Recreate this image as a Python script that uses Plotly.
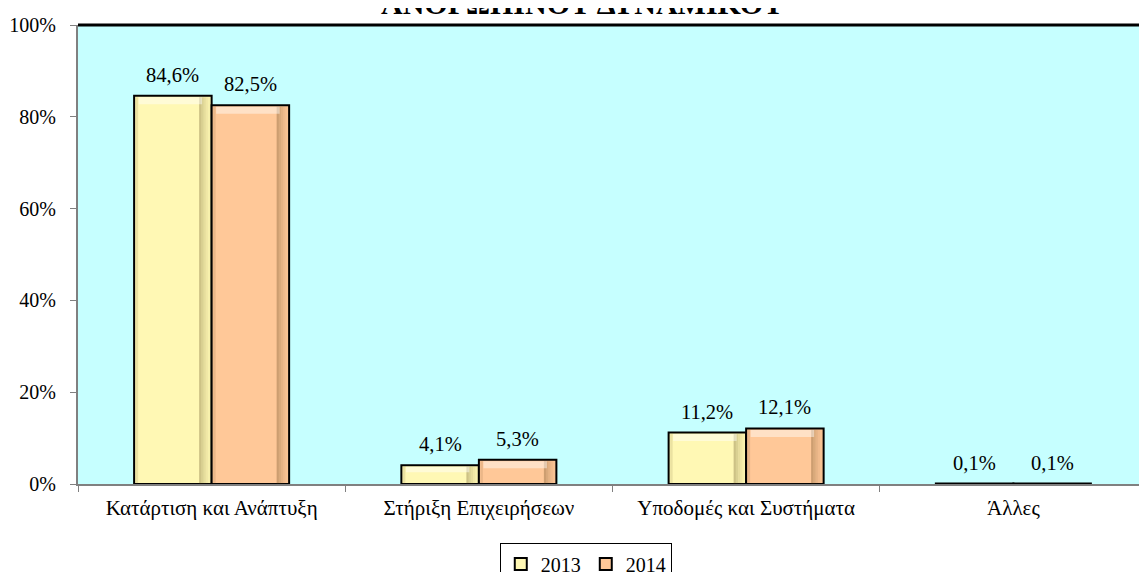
import plotly.graph_objects as go

categories = ["Κατάρτιση και Ανάπτυξη", "Στήριξη Επιχειρήσεων", "Υποδομές και Συστήματα", "Άλλες"]
years = ["2013", "2014"]
values_2013 = [84.6, 4.1, 11.2, 0.1]
values_2014 = [82.5, 5.3, 12.1, 0.1]
title_text = "ΑΝΘΡΩΠΙΝΟΥ ΔΥΝΑΜΙΚΟΥ"

colors = ["#FFF8B4", "#FFC898"]
series = [values_2013, values_2014]

FONT = "Liberation Serif, Times New Roman, serif"
BARGAP = 0.42

fig = go.Figure()
for name, vals, col in zip(years, series, colors):
    fig.add_trace(go.Bar(
        x=categories, y=vals, name=name,
        marker=dict(color=col, line=dict(color="#000000", width=2)),
    ))

# plot-area geometry (pixels) used to convert bevel sizes into axis units
plot_w = 1147 - 78
plot_h = 572 - 25 - 88
cat_px = plot_w / len(categories)
bar_w = (1 - BARGAP) / 2
px_x = 1.0 / cat_px
px_y = 100.0 / plot_h

shapes = [dict(type="line", xref="paper", yref="paper", x0=0, x1=1, y0=1, y1=1,
               line=dict(color="#000000", width=3), layer="above")]

# soft bevel shading on each bar (right/left shadow, top highlight)
for i, vals in enumerate(series):
    for j, v in enumerate(vals):
        h_px = v / px_y
        if h_px < 6:
            continue
        x0 = j - bar_w + i * bar_w
        x1 = x0 + bar_w
        inset = 1.5 * px_x
        top = v - 1.5 * px_y
        # right side shadow gradient
        for k, op in enumerate([0.04, 0.08, 0.13, 0.19, 0.26]):
            xa = x1 - inset - (k + 1) * 2.2 * px_x
            xb = x1 - inset - k * 2.2 * px_x
            shapes.append(dict(type="rect", xref="x", yref="y", x0=xa, x1=xb,
                               y0=0, y1=top, fillcolor=f"rgba(60,40,0,{op})",
                               line=dict(width=0), layer="above"))
        # left side thin shadow
        shapes.append(dict(type="rect", xref="x", yref="y", x0=x0 + inset,
                           x1=x0 + inset + 2.5 * px_x, y0=0, y1=top,
                           fillcolor="rgba(60,40,0,0.10)", line=dict(width=0), layer="above"))
        # top highlight band
        band = min(7.0, h_px * 0.3) * px_y
        shapes.append(dict(type="rect", xref="x", yref="y", x0=x0 + inset + 3 * px_x,
                           x1=x1 - inset - 8 * px_x, y0=top - band, y1=top,
                           fillcolor="rgba(255,255,255,0.45)", line=dict(width=0), layer="above"))

# data labels
bar_px = bar_w * cat_px
annotations = []
for i, vals in enumerate(series):
    shift = (-1 if i == 0 else 1) * bar_px / 2
    for c, v in zip(categories, vals):
        annotations.append(dict(
            x=c, y=v, xref="x", yref="y", xshift=shift, yshift=8,
            text=f"{v:.1f}".replace(".", ",") + "%",
            showarrow=False, yanchor="bottom",
            font=dict(family=FONT, size=20.5, color="#000000"),
        ))
annotations.append(dict(
    x=0.472, y=1, xref="paper", yref="paper", yanchor="bottom", yshift=3,
    text="<b>" + title_text + "</b>", showarrow=False,
    font=dict(family=FONT, size=30, color="#000000"),
))

# the page body adds an 8px offset; margins compensate for it
fig.update_layout(
    width=1147, height=572,
    margin=dict(l=70, r=8, t=17, b=96),
    paper_bgcolor="#FFFFFF",
    plot_bgcolor="#C6FFFF",
    barmode="group",
    bargap=BARGAP,
    bargroupgap=0,
    separators=",.",
    font=dict(family=FONT, size=20, color="#000000"),
    annotations=annotations,
    showlegend=True,
    legend=dict(
        orientation="h", x=0.475, xanchor="center",
        yref="container", y=0.064, yanchor="top",
        bordercolor="#000000", borderwidth=1, bgcolor="#FFFFFF",
        font=dict(family=FONT, size=20), itemwidth=30,
    ),
    shapes=shapes,
)
fig.update_xaxes(
    showline=True, linecolor="#808080", linewidth=2,
    ticks="outside", tickson="boundaries", ticklen=6, tickcolor="#808080", tickwidth=1,
    showgrid=False, tickfont=dict(family=FONT, size=21), ticklabelstandoff=4,
    automargin=False,
)
fig.update_yaxes(
    range=[0, 100], dtick=20, ticksuffix="%",
    showline=True, linecolor="#808080", linewidth=2,
    ticks="outside", ticklen=6, tickcolor="#808080", tickwidth=1,
    showgrid=False, zeroline=False, tickfont=dict(family=FONT, size=20),
    ticklabelstandoff=10, automargin=False,
)

fig.write_html("out.html")
